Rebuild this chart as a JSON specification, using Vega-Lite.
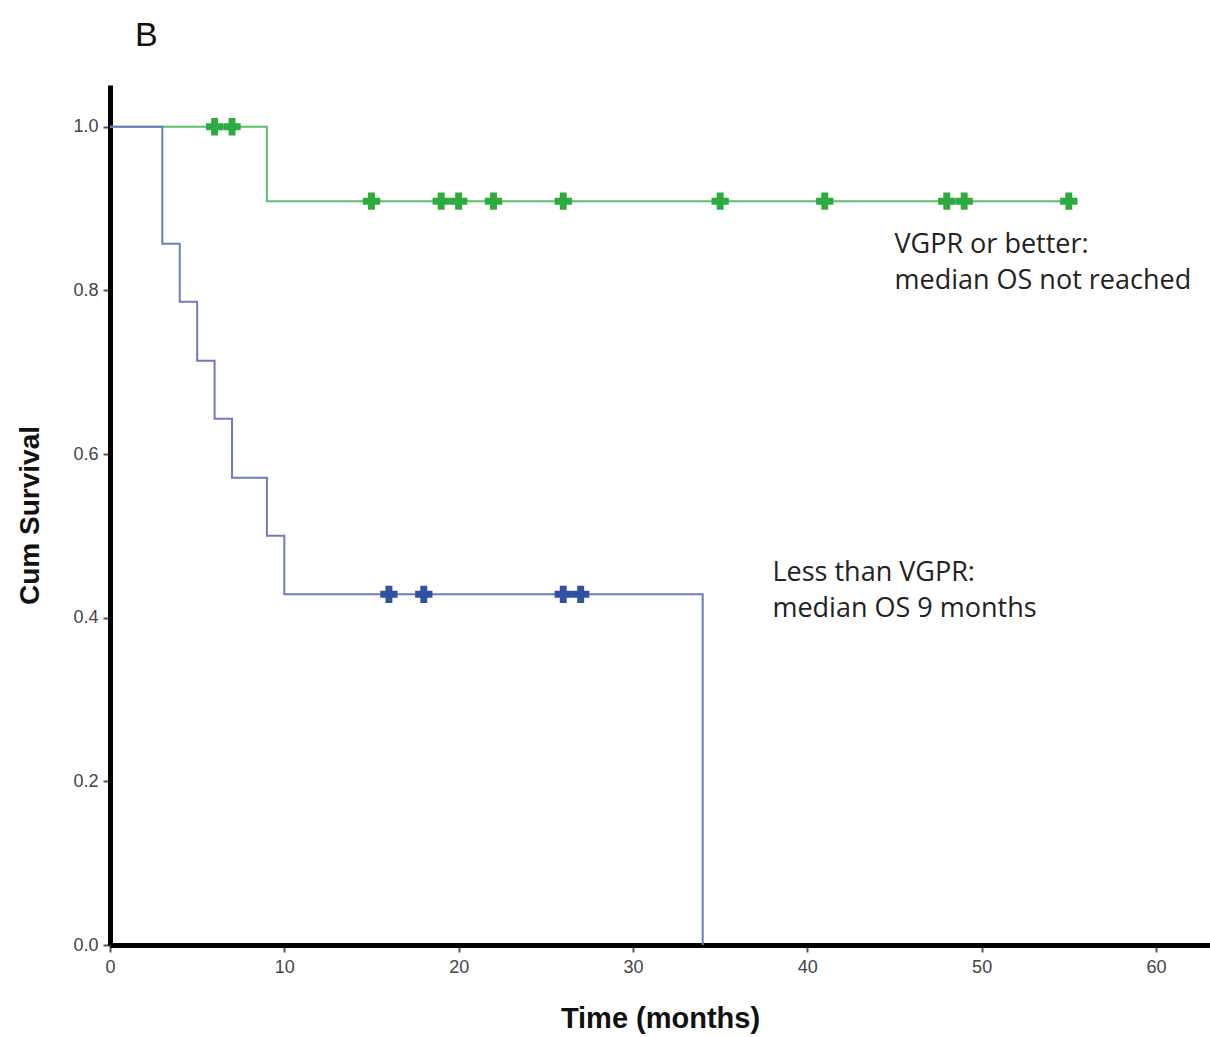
{
  "$schema": "https://vega.github.io/schema/vega-lite/v6.json",
  "autosize": "none",
  "width": 1100,
  "height": 860,
  "padding": {"left": 110, "top": 85, "right": 0, "bottom": 92},
  "background": "white",
  "title": {"text": "B", "anchor": "start", "frame": "group", "dx": 25, "offset": 5, "baseline": "alphabetic", "font": "Liberation Sans", "fontSize": 34, "fontWeight": "normal", "color": "#111"},
  "config": {"view": {"stroke": null}},
  "datasets": {
    "curves": [
      {"group": "VGPR or better", "time": 0, "surv": 1.0},
      {"group": "VGPR or better", "time": 9, "surv": 0.909},
      {"group": "VGPR or better", "time": 55, "surv": 0.909},
      {"group": "Less than VGPR", "time": 0, "surv": 1.0},
      {"group": "Less than VGPR", "time": 3, "surv": 0.857},
      {"group": "Less than VGPR", "time": 4, "surv": 0.786},
      {"group": "Less than VGPR", "time": 5, "surv": 0.714},
      {"group": "Less than VGPR", "time": 6, "surv": 0.643},
      {"group": "Less than VGPR", "time": 7, "surv": 0.571},
      {"group": "Less than VGPR", "time": 9, "surv": 0.5},
      {"group": "Less than VGPR", "time": 10, "surv": 0.4286},
      {"group": "Less than VGPR", "time": 34, "surv": 0.0}
    ],
    "censored": [
      {"group": "VGPR or better", "time": 6, "surv": 1.0},
      {"group": "VGPR or better", "time": 7, "surv": 1.0},
      {"group": "VGPR or better", "time": 15, "surv": 0.909},
      {"group": "VGPR or better", "time": 19, "surv": 0.909},
      {"group": "VGPR or better", "time": 20, "surv": 0.909},
      {"group": "VGPR or better", "time": 22, "surv": 0.909},
      {"group": "VGPR or better", "time": 26, "surv": 0.909},
      {"group": "VGPR or better", "time": 35, "surv": 0.909},
      {"group": "VGPR or better", "time": 41, "surv": 0.909},
      {"group": "VGPR or better", "time": 48, "surv": 0.909},
      {"group": "VGPR or better", "time": 49, "surv": 0.909},
      {"group": "VGPR or better", "time": 55, "surv": 0.909},
      {"group": "Less than VGPR", "time": 16, "surv": 0.4286},
      {"group": "Less than VGPR", "time": 18, "surv": 0.4286},
      {"group": "Less than VGPR", "time": 26, "surv": 0.4286},
      {"group": "Less than VGPR", "time": 27, "surv": 0.4286}
    ],
    "notes": [
      {"time": 45.0, "surv": 0.856, "label": "VGPR or better:"},
      {"time": 45.0, "surv": 0.811, "label": "median OS not reached"},
      {"time": 38.0, "surv": 0.455, "label": "Less than VGPR:"},
      {"time": 38.0, "surv": 0.411, "label": "median OS 9 months"}
    ]
  },
  "layer": [
    {
      "data": {"name": "curves"},
      "mark": {"type": "line", "interpolate": "step-after", "strokeWidth": 2},
      "encoding": {
        "x": {"field": "time", "type": "quantitative", "scale": {"domain": [0, 63.1], "nice": false, "zero": false},
          "axis": {"title": "Time (months)", "values": [0, 10, 20, 30, 40, 50, 60], "grid": false, "labelFlush": false,
            "domainColor": "#000", "domainWidth": 5, "tickColor": "#555", "tickWidth": 2, "tickSize": 7,
            "labelFont": "Liberation Sans", "labelFontSize": 18, "labelColor": "#444", "labelPadding": 6,
            "titleFont": "Liberation Sans", "titleFontSize": 29, "titleFontWeight": "bold", "titleColor": "#111", "titlePadding": 28}},
        "y": {"field": "surv", "type": "quantitative", "scale": {"domain": [0, 1.051], "nice": false, "zero": false},
          "axis": {"title": "Cum Survival", "values": [0, 0.2, 0.4, 0.6, 0.8, 1.0], "format": ".1f", "grid": false, "labelFlush": false,
            "domainColor": "#000", "domainWidth": 5, "tickColor": "#555", "tickWidth": 2, "tickSize": 7,
            "labelFont": "Liberation Sans", "labelFontSize": 18, "labelColor": "#444", "labelPadding": 5,
            "titleFont": "Liberation Sans", "titleFontSize": 28, "titleFontWeight": "bold", "titleColor": "#111", "titlePadding": 28}},
        "color": {"field": "group", "type": "nominal", "scale": {"domain": ["VGPR or better", "Less than VGPR"], "range": ["#5dbf6a", "#7079c0"]}, "legend": null}
      }
    },
    {
      "data": {"name": "censored"},
      "mark": {"type": "point", "shape": "cross", "filled": true, "size": 300, "opacity": 1},
      "encoding": {
        "x": {"field": "time", "type": "quantitative"},
        "y": {"field": "surv", "type": "quantitative"},
        "color": {"field": "group", "type": "nominal", "scale": {"domain": ["VGPR or better", "Less than VGPR"], "range": ["#2eab3e", "#2f52a3"]}, "legend": null}
      }
    },
    {
      "data": {"name": "notes"},
      "mark": {"type": "text", "align": "left", "baseline": "middle", "font": "Open Sans", "fontSize": 27, "color": "#222"},
      "encoding": {
        "x": {"field": "time", "type": "quantitative"},
        "y": {"field": "surv", "type": "quantitative"},
        "text": {"field": "label"}
      }
    }
  ],
  "resolve": {"scale": {"color": "independent"}}
}
